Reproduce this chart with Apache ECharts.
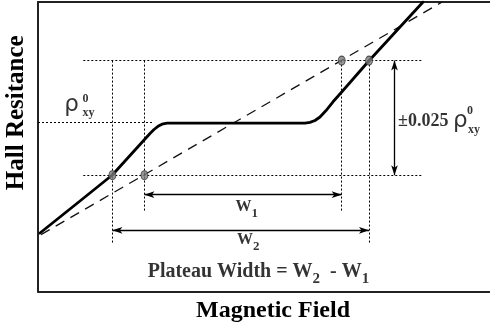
<!DOCTYPE html>
<html><head><meta charset="utf-8">
<script src="https://cdn.jsdelivr.net/npm/echarts@6/dist/echarts.min.js"></script>
<style>html,body{margin:0;padding:0;background:#fff}#c{width:490px;height:324px}</style>
</head><body><div id="c"></div>
<script>
// ---- data (arbitrary units: field 0..100, resistance 0..64) ----
const fieldRange = [0, 100];
const resistanceRange = [0, 64];
// solid Hall-resistance curve with plateau
const solidCurve = [[0.44,12.93],[9.29,20.01],[16.44,25.76],[23.67,33.71],[24.78,34.93],[25.66,35.81],[26.55,36.52],
  [27.43,36.99],[28.54,37.23],[59.07,37.23],[60.18,37.38],[61.28,37.8],[62.39,38.58],[63.72,40.01],[65.27,41.94],
  [67.19,44.1],[73.23,51.02],[85.18,64.0]];
// classical (linear) Hall line
const dashedLine = [[0.66,12.56],[89.4,64.0]];
// intersections of the curves with the ±2.5% band
const crossingPoints = [[16.46,25.71],[23.54,25.71],[67.19,51.05],[73.23,51.05]];
// lower band, plateau value, upper band
const levelValues = [25.71, 37.4, 51.05];
// field positions of W2 start, W1 start, W1 end, W2 end
const fieldMarks = [16.46, 23.54, 67.19, 73.23];
const verticalGuideBottom = [10.4, 17.8, 17.8, 10.4];
const guideXRange = [10.02, 84.96];
const plateauGuideEnd = 25.22;
const widthArrowLevels = [21.4, 13.53];   // W1, W2
const toleranceArrowField = 78.87;
// annotation texts and their anchors (data units)
const labelTexts = ['{r|ρ}', '{ss|0}', '{ss|xy}', '{pm|±0.025 }{r|ρ}', '{ss|0}', '{ss|xy}',
  '{w|W}{ws|1}', '{w|W}{ws|2}', '{p|Plateau Width = W}{ps|2}{p|  - W}{ps|1}'];
const labelAnchors = [[7.41,41.23],[10.51,42.56],[11.17,39.56],[79.65,37.58],[95.58,39.9],[96.46,35.7],
  [46.2,18.05],[46.5,10.86],[48.78,3.81]];
const axisTitles = ['Magnetic Field', 'Hall Resitance'];

// ---- chart ----
const SERIF = '"Liberation Serif", "Times New Roman", serif';
const GREEK = '"DejaVu Sans", sans-serif';
const [lowLevel, plateauLevel, highLevel] = levelValues;

const guideSegments = [
  [[guideXRange[0], highLevel], [guideXRange[1], highLevel]],
  [[guideXRange[0], lowLevel], [guideXRange[1], lowLevel]],
  [[fieldRange[0], plateauLevel], [plateauGuideEnd, plateauLevel]]
].concat(fieldMarks.map((f, i) => [[f, highLevel], [f, verticalGuideBottom[i]]]));

const arrowSegments = [
  [[fieldMarks[1], widthArrowLevels[0]], [fieldMarks[2], widthArrowLevels[0]]],
  [[fieldMarks[0], widthArrowLevels[1]], [fieldMarks[3], widthArrowLevels[1]]],
  [[toleranceArrowField, lowLevel], [toleranceArrowField, highLevel]]
];

const bold = { fontFamily: SERIF, fontWeight: 'bold', color: '#000' };
const rich = {
  r: { fontFamily: GREEK, fontSize: 23, fontWeight: 'normal', color: '#000' },
  ss: Object.assign({ fontSize: 12 }, bold),
  pm: Object.assign({ fontSize: 18 }, bold),
  w: Object.assign({ fontSize: 16, lineHeight: 16, verticalAlign: 'top' }, bold),
  ws: Object.assign({ fontSize: 13, lineHeight: 21, verticalAlign: 'bottom' }, bold),
  p: Object.assign({ fontSize: 20, lineHeight: 20, verticalAlign: 'top' }, bold),
  ps: Object.assign({ fontSize: 15, lineHeight: 24.5, verticalAlign: 'bottom' }, bold)
};

const annotationData = labelTexts.map((t, i) => ({
  value: labelAnchors[i],
  label: { formatter: t, align: i === 3 ? 'left' : 'center' }
}));

const axisLineStyle = { show: true, onZero: false, lineStyle: { color: '#222', width: 2 } };
const hidden = { axisTick: { show: false }, axisLabel: { show: false }, splitLine: { show: false } };
const titleStyle = { fontFamily: SERIF, fontWeight: 'bold', color: '#000' };

const chart = echarts.init(document.getElementById('c'), null, { renderer: 'canvas' });
chart.setOption({
  animation: false,
  backgroundColor: '#fff',
  grid: { left: 38, right: 0, top: 2, bottom: 32.5, containLabel: false, outerBoundsMode: 'none' },
  xAxis: [
    Object.assign({ type: 'value', min: fieldRange[0], max: fieldRange[1], position: 'bottom',
      axisLine: axisLineStyle, name: axisTitles[0], nameLocation: 'middle', nameGap: 7,
      nameTextStyle: Object.assign({ fontSize: 24, padding: [0, 0, 0, 18] }, titleStyle) }, hidden),
    Object.assign({ type: 'value', min: fieldRange[0], max: fieldRange[1], position: 'top',
      axisLine: axisLineStyle }, hidden)
  ],
  yAxis: Object.assign({ type: 'value', min: resistanceRange[0], max: resistanceRange[1], position: 'left',
    axisLine: axisLineStyle, name: axisTitles[1], nameLocation: 'middle', nameGap: 9, nameRotate: 90,
    nameTextStyle: Object.assign({ fontSize: 25, padding: [0, 0, 0, 68] }, titleStyle) }, hidden),
  series: [
    { type: 'lines', coordinateSystem: 'cartesian2d', silent: true, z: 1,
      data: guideSegments.map(c => ({ coords: c })),
      lineStyle: { color: '#000', width: 1, type: [2, 2], opacity: 1 } },
    { type: 'line', data: dashedLine, symbol: 'none', silent: true, z: 2,
      lineStyle: { color: '#111', width: 1.3, type: [10, 7] } },
    { type: 'line', data: solidCurve, symbol: 'none', smooth: false, silent: true, z: 3,
      lineStyle: { color: '#000', width: 2.8, join: 'round', cap: 'round' } },
    { type: 'line', data: [], silent: true, z: 4,
      markLine: { silent: true, symbol: ['arrow', 'arrow'], symbolSize: [5, 10],
        label: { show: false }, lineStyle: { color: '#000', width: 1.3, type: 'solid' },
        emphasis: { disabled: true },
        data: arrowSegments.map(s => [{ coord: s[0] }, { coord: s[1] }]) } },
    { type: 'scatter', data: crossingPoints, symbol: 'circle', symbolSize: [7, 9], silent: true, z: 5,
      itemStyle: { color: '#7a7a7a', borderColor: '#333', borderWidth: 1 } },
    { type: 'scatter', data: annotationData, symbolSize: 1, silent: true, z: 6,
      itemStyle: { color: 'transparent' },
      label: { show: true, position: 'inside', color: '#000', rich: rich } }
  ]
});
</script></body></html>
